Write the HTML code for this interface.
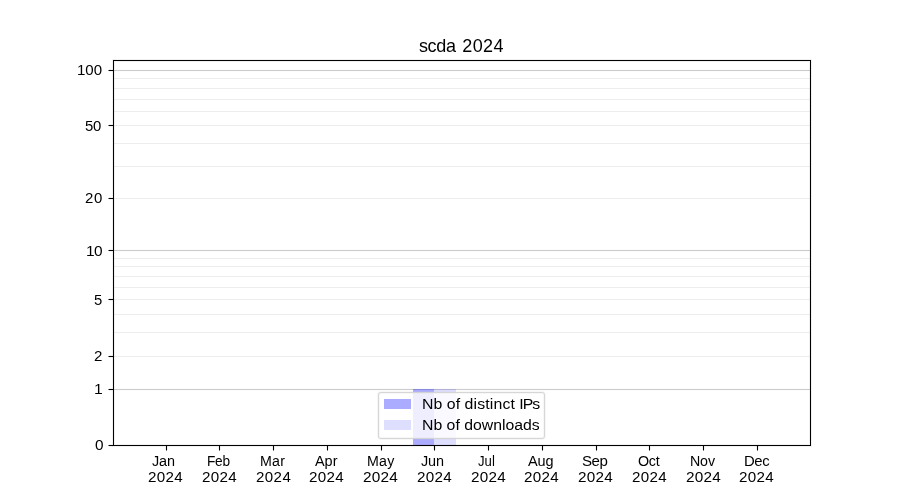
<!DOCTYPE html>
<html lang="en"><head><meta charset="utf-8"><title>scda 2024</title>
<style>
html,body{margin:0;padding:0;background:#fff;}
body{width:900px;height:500px;position:relative;overflow:hidden;font-family:"Liberation Sans",sans-serif;color:#000;}
#c{position:absolute;left:0;top:0;width:900px;height:500px;overflow:hidden;will-change:transform;}
#c div{position:absolute;}
#c .t{white-space:nowrap;line-height:1;transform-origin:0 0;}
#c .gM{left:114px;width:696px;height:1px;background:#cccccc;box-shadow:0 1px 0 rgba(204,204,204,0.06),0 -1px 0 rgba(204,204,204,0.06);}
#c .gm{left:114px;width:696px;height:1px;background:#ededed;}
#c .fr{left:113px;top:60px;width:698px;height:386px;box-sizing:border-box;border:1px solid #000;box-shadow:0 0 0 1px rgba(0,0,0,0.055),inset 0 0 0 1px rgba(0,0,0,0.055);}
#c .yt{left:109px;width:4px;height:1px;background:#000;box-shadow:0 1px 0 rgba(0,0,0,0.055),0 -1px 0 rgba(0,0,0,0.055),-1px 0 0 rgba(0,0,0,0.5);}
#c .xt{top:446px;width:1px;height:4px;background:#000;box-shadow:1px 0 0 rgba(0,0,0,0.055),-1px 0 0 rgba(0,0,0,0.055),0 1px 0 rgba(0,0,0,0.5);}
#c .b1{left:413px;top:389px;width:21px;height:56px;background:rgba(0,0,255,0.33);}
#c .b2{left:434px;top:389px;width:22px;height:56px;background:rgba(0,0,255,0.13);}
#c .leg{left:378px;top:392px;width:167px;height:47px;box-sizing:border-box;border:1px solid rgba(204,204,204,0.8);border-radius:3px;background:rgba(255,255,255,0.8);box-shadow:0 0 0 1px rgba(204,204,204,0.15),inset 0 0 0 1px rgba(204,204,204,0.15);}
#c .h1{left:384px;top:399px;width:27px;height:10px;background:rgba(0,0,255,0.33);}
#c .h2{left:384px;top:420px;width:27px;height:10px;background:rgba(0,0,255,0.13);}
</style></head><body><div id="c">
<div class="t" id="title" style="left:418.85px;top:36.96px;font-size:18.77px;transform:scaleX(0.9600);letter-spacing:0.390px;word-spacing:1.451px"><span style="letter-spacing:-0.40px">scda</span> 2024</div>
<div class="gm" style="top:78px"></div>
<div class="gm" style="top:88px"></div>
<div class="gm" style="top:99px"></div>
<div class="gm" style="top:111px"></div>
<div class="gm" style="top:125px"></div>
<div class="gm" style="top:143px"></div>
<div class="gm" style="top:166px"></div>
<div class="gm" style="top:198px"></div>
<div class="gm" style="top:258px"></div>
<div class="gm" style="top:266px"></div>
<div class="gm" style="top:276px"></div>
<div class="gm" style="top:287px"></div>
<div class="gm" style="top:299px"></div>
<div class="gm" style="top:314px"></div>
<div class="gm" style="top:332px"></div>
<div class="gm" style="top:356px"></div>
<div class="gM" style="top:70px"></div>
<div class="gM" style="top:250px"></div>
<div class="gM" style="top:389px"></div>
<div class="b1"></div><div class="b2"></div>
<div class="fr"></div>
<div class="yt" style="top:70px"></div>
<div class="t" id="y100" style="left:76.69px;top:62.94px;font-size:14.53px;transform:scaleX(1.0376);letter-spacing:-0.012px">100</div>
<div class="yt" style="top:125px"></div>
<div class="t" id="y50" style="left:84.60px;top:118.96px;font-size:14.25px;transform:scaleX(1.0448);letter-spacing:-0.312px">50</div>
<div class="yt" style="top:198px"></div>
<div class="t" id="y20" style="left:85.37px;top:191.22px;font-size:14.04px;transform:scaleX(1.0671);letter-spacing:0.639px">20</div>
<div class="yt" style="top:250px"></div>
<div class="t" id="y10" style="left:86.25px;top:244.27px;font-size:14.34px;transform:scaleX(1.0781);letter-spacing:-0.504px">10</div>
<div class="yt" style="top:299px"></div>
<div class="t" id="y5" style="left:93.97px;top:292.81px;font-size:14.47px;transform:scaleX(1.0268)">5</div>
<div class="yt" style="top:356px"></div>
<div class="t" id="y2" style="left:93.88px;top:348.73px;font-size:14.57px;transform:scaleX(1.0369)">2</div>
<div class="yt" style="top:389px"></div>
<div class="t" id="y1" style="left:93.92px;top:381.59px;font-size:14.08px;transform:scaleX(1.1170);letter-spacing:0.631px">1</div>
<div class="yt" style="top:445px"></div>
<div class="t" id="y0" style="left:94.85px;top:437.91px;font-size:14.78px;transform:scaleX(1.0411);letter-spacing:-0.242px">0</div>
<div class="xt" style="left:166px"></div>
<div class="t" id="mJan" style="left:152.00px;top:453.98px;font-size:14.09px;transform:scaleX(1.0229);letter-spacing:-0.080px">Jan</div>
<div class="t" id="yrJan" style="left:147.75px;top:469.63px;font-size:14.50px;transform:scaleX(1.0479);letter-spacing:0.260px">2024</div>
<div class="xt" style="left:219px"></div>
<div class="t" id="mFeb" style="left:207.15px;top:454.13px;font-size:14.73px;transform:scaleX(0.9295);letter-spacing:-0.252px">Feb</div>
<div class="t" id="yrFeb" style="left:201.61px;top:470.00px;font-size:14.24px;transform:scaleX(1.0663);letter-spacing:0.279px">2024</div>
<div class="xt" style="left:273px"></div>
<div class="t" id="mMar" style="left:259.94px;top:454.20px;font-size:14.27px;transform:scaleX(0.9947);letter-spacing:0.300px">Mar</div>
<div class="t" id="yrMar" style="left:255.72px;top:470.43px;font-size:14.13px;transform:scaleX(1.0681);letter-spacing:0.386px">2024</div>
<div class="xt" style="left:327px"></div>
<div class="t" id="mApr" style="left:314.83px;top:454.44px;font-size:14.47px;transform:scaleX(0.9980);letter-spacing:-0.017px">Apr</div>
<div class="t" id="yrApr" style="left:309.13px;top:469.78px;font-size:14.31px;transform:scaleX(1.0617);letter-spacing:0.268px">2024</div>
<div class="xt" style="left:381px"></div>
<div class="t" id="mMay" style="left:366.94px;top:454.37px;font-size:14.28px;transform:scaleX(0.9950);letter-spacing:0.300px">May</div>
<div class="t" id="yrMay" style="left:363.45px;top:469.86px;font-size:14.27px;transform:scaleX(1.0773);letter-spacing:0.150px">2024</div>
<div class="xt" style="left:434px"></div>
<div class="t" id="mJun" style="left:420.94px;top:453.59px;font-size:14.55px;transform:scaleX(0.9923);letter-spacing:-0.100px">Jun</div>
<div class="t" id="yrJun" style="left:417.49px;top:470.36px;font-size:14.34px;transform:scaleX(1.0622);letter-spacing:0.247px">2024</div>
<div class="xt" style="left:488px"></div>
<div class="t" id="mJul" style="left:478.44px;top:454.10px;font-size:14.05px;transform:scaleX(0.9359);letter-spacing:0.039px">Jul</div>
<div class="t" id="yrJul" style="left:471.16px;top:470.12px;font-size:14.24px;transform:scaleX(1.0708);letter-spacing:0.234px">2024</div>
<div class="xt" style="left:542px"></div>
<div class="t" id="mAug" style="left:527.95px;top:453.96px;font-size:14.31px;transform:scaleX(1.0114);letter-spacing:-0.151px">Aug</div>
<div class="t" id="yrAug" style="left:524.43px;top:469.72px;font-size:14.31px;transform:scaleX(1.0619);letter-spacing:0.264px">2024</div>
<div class="xt" style="left:596px"></div>
<div class="t" id="mSep" style="left:581.87px;top:453.63px;font-size:14.61px;transform:scaleX(1.0308);letter-spacing:-0.409px">Sep</div>
<div class="t" id="yrSep" style="left:578.46px;top:469.78px;font-size:14.24px;transform:scaleX(1.0731);letter-spacing:0.206px">2024</div>
<div class="xt" style="left:649px"></div>
<div class="t" id="mOct" style="left:638.01px;top:453.70px;font-size:13.98px;transform:scaleX(1.0222);letter-spacing:-0.274px">Oct</div>
<div class="t" id="yrOct" style="left:631.52px;top:469.96px;font-size:14.48px;transform:scaleX(1.0456);letter-spacing:0.349px">2024</div>
<div class="xt" style="left:703px"></div>
<div class="t" id="mNov" style="left:690.08px;top:453.53px;font-size:14.48px;transform:scaleX(0.9820);letter-spacing:-0.141px">Nov</div>
<div class="t" id="yrNov" style="left:685.58px;top:470.28px;font-size:14.65px;transform:scaleX(1.0472);letter-spacing:0.177px">2024</div>
<div class="xt" style="left:757px"></div>
<div class="t" id="mDec" style="left:744.14px;top:454.02px;font-size:14.22px;transform:scaleX(1.0449);letter-spacing:-0.381px">Dec</div>
<div class="t" id="yrDec" style="left:739.32px;top:469.70px;font-size:14.14px;transform:scaleX(1.0751);letter-spacing:0.321px">2024</div>
<div class="leg"></div>
<div class="h1"></div><div class="h2"></div>
<div class="t" id="leg1" style="left:421.50px;top:396.70px;font-size:14.12px;transform:scaleX(1.1234);letter-spacing:0.138px;word-spacing:-0.317px">Nb of distinct <span style="letter-spacing:-0.89px">IPs</span></div>
<div class="t" id="leg2" style="left:422.13px;top:418.01px;font-size:14.59px;transform:scaleX(1.0839);letter-spacing:-0.023px;word-spacing:0.098px">Nb of downloads</div>
</div></body></html>
